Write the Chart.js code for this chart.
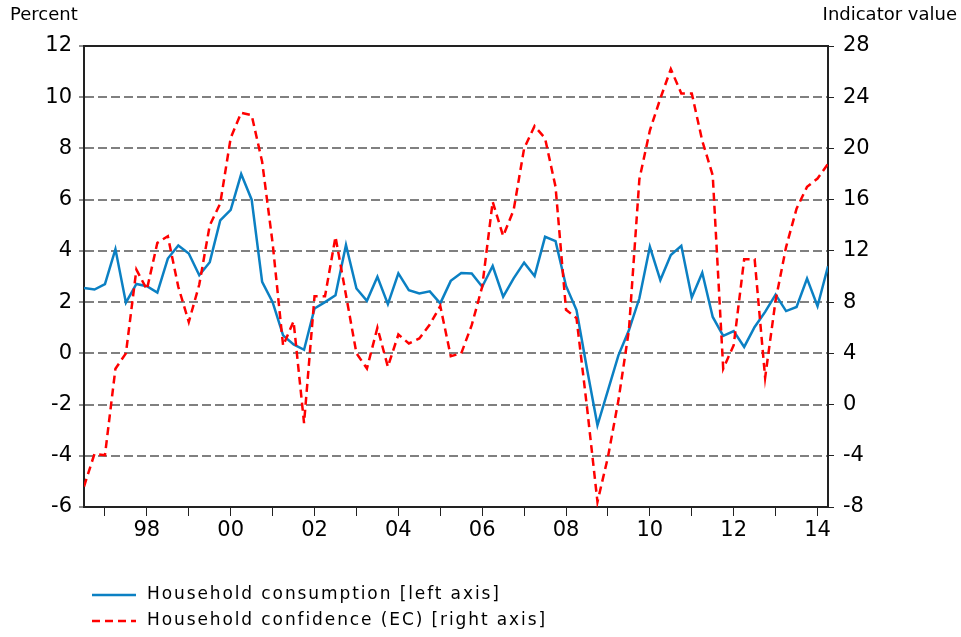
<!DOCTYPE html>
<html>
<head>
    <title>Household consumption and confidence</title>
    <script src="https://cdn.jsdelivr.net/npm/chart.js"></script>
    <style>
        body { margin: 0; background: #fff; }
        #wrap { width: 961px; height: 637px; position: relative; }
    </style>
</head>
<body>
    <div id="wrap"><canvas id="chart"></canvas></div>

    <script>
        // quarterly observations, 1996Q3 .. 2014Q2
        const quarters = [];
        for (let y = 1996; y <= 2014; y++) {
            for (let q = 1; q <= 4; q++) {
                if ((y === 1996 && q < 3) || (y === 2014 && q > 2)) continue;
                quarters.push(y + 'Q' + q);
            }
        }

        const tickYears = [1997, 1998, 1999, 2000, 2001, 2002, 2003, 2004, 2005,
                           2006, 2007, 2008, 2009, 2010, 2011, 2012, 2013, 2014];

        // Household consumption, percent (left axis)
        const consumption = [
            2.55, 2.49,
            2.70, 4.07, 1.98, 2.71,
            2.62, 2.37, 3.70, 4.21,
            3.90, 3.05, 3.56, 5.19,
            5.60, 7.00, 6.00, 2.79,
            2.00, 0.70, 0.35, 0.14,
            1.75, 2.00, 2.27, 4.23,
            2.53, 2.05, 2.99, 1.92,
            3.12, 2.47, 2.34, 2.42,
            1.95, 2.83, 3.14, 3.12,
            2.60, 3.41, 2.21, 2.93,
            3.54, 3.02, 4.55, 4.38,
            2.63, 1.69, -0.60, -2.81,
            -1.45, -0.08, 0.90, 2.15,
            4.16, 2.86, 3.84, 4.20,
            2.18, 3.15, 1.42, 0.68,
            0.87, 0.25, 1.03, 1.62,
            2.29, 1.65, 1.81, 2.92,
            1.84, 3.40
        ];

        // Household confidence (EC), indicator value (right axis)
        const confidence = [
            -6.4, -3.85,
            -3.95, 2.8, 4.0, 10.54,
            8.98, 12.63, 13.15, 9.19,
            6.45, 9.37, 14.0, 15.7,
            20.83, 22.79, 22.6, 18.96,
            12.6, 4.6, 6.5, -1.45,
            8.46, 8.46, 13.1, 8.55,
            4.0, 2.82, 6.0, 2.95,
            5.47, 4.77, 5.16, 6.25,
            7.69, 3.78, 4.0, 6.2,
            9.2, 15.84, 13.16, 15.19,
            20.0, 21.75, 20.79, 17.0,
            7.4, 6.75, -0.2, -7.6,
            -4.1, 0.33, 5.8, 17.6,
            21.4, 23.9, 26.2, 24.3,
            24.3, 20.6, 17.9, 2.8,
            4.63, 11.35, 11.35, 2.1,
            8.14, 12.3, 15.3, 17.0,
            17.65, 18.8
        ];

        const seriesNames = ['Household consumption [left axis]', 'Household confidence (EC) [right axis]'];

        const qx = quarters.map(function(s) {
            return +s.slice(0, 4) + (+s.slice(5) - 1) / 4;
        });

        const tickFont = { family: "'DejaVu Sans', Verdana, sans-serif", size: 21 };
        const axisColor = '#222';

        const decor = {
            id: 'decor',
            afterDraw(chart) {
                const ctx = chart.ctx;
                const a = chart.chartArea;
                ctx.save();
                // top frame line
                ctx.strokeStyle = axisColor;
                ctx.lineWidth = 2;
                ctx.beginPath();
                ctx.moveTo(a.left - 1, a.top);
                ctx.lineTo(a.right + 1, a.top);
                ctx.stroke();

                // axis titles
                ctx.fillStyle = '#000';
                ctx.font = "18px 'DejaVu Sans', Verdana, sans-serif";
                ctx.textBaseline = 'middle';
                ctx.textAlign = 'left';
                ctx.fillText('Percent', 10, 15);
                ctx.textAlign = 'right';
                ctx.fillText('Indicator value', 957, 15);

                // legend
                ctx.textAlign = 'left';
                ctx.font = "17px 'DejaVu Sans', Verdana, sans-serif";
                ctx.letterSpacing = '1.9px';
                chart.data.datasets.forEach(function(ds, k) {
                    const y = 595 + k * 26;
                    ctx.strokeStyle = ds.borderColor;
                    ctx.lineWidth = 2.5;
                    ctx.setLineDash(ds.borderDash || []);
                    ctx.beginPath();
                    ctx.moveTo(92, y);
                    ctx.lineTo(136, y);
                    ctx.stroke();
                    ctx.setLineDash([]);
                    ctx.fillText(ds.label, 147, y);
                });
                ctx.restore();
            }
        };

        new Chart(document.getElementById('chart'), {
            type: 'line',
            data: {
                datasets: [{
                    label: seriesNames[0],
                    data: consumption.map(function(v, i) { return { x: qx[i], y: v }; }),
                    yAxisID: 'y',
                    borderColor: '#0b80c3',
                    borderWidth: 2.5,
                    pointRadius: 0,
                    tension: 0,
                    order: 1
                }, {
                    label: seriesNames[1],
                    data: confidence.map(function(v, i) { return { x: qx[i], y: v }; }),
                    yAxisID: 'y2',
                    borderColor: '#ff0000',
                    borderWidth: 2.5,
                    borderDash: [8, 5],
                    pointRadius: 0,
                    tension: 0,
                    order: 0
                }]
            },
            plugins: [decor],
            options: {
                responsive: true,
                maintainAspectRatio: false,
                animation: false,
                layout: { padding: { top: 46, bottom: 90, left: 0, right: 0 } },
                plugins: { legend: { display: false }, tooltip: { enabled: false } },
                scales: {
                    x: {
                        type: 'linear',
                        min: 1996.5,
                        max: 2014.25,
                        afterBuildTicks: function(s) {
                            s.ticks = tickYears.map(function(y) { return { value: y }; });
                        },
                        afterFit: function(s) { s.height = 40; },
                        grid: { drawOnChartArea: false, drawTicks: true, tickLength: 9, color: axisColor, lineWidth: 1 },
                        border: { color: axisColor, width: 2 },
                        ticks: {
                            autoSkip: false,
                            maxRotation: 0,
                            padding: 2,
                            color: '#000',
                            font: tickFont,
                            callback: function(v) { return v % 2 === 0 ? String(v).slice(2) : ''; }
                        }
                    },
                    y: {
                        position: 'left',
                        min: -6,
                        max: 12,
                        afterFit: function(s) { s.width = 84; },
                        grid: { color: '#808080', lineWidth: 2, tickLength: 5, tickColor: axisColor, tickWidth: 1 },
                        border: { color: axisColor, width: 2, dash: [9, 4] },
                        ticks: { stepSize: 2, padding: 7, color: '#000', font: tickFont }
                    },
                    y2: {
                        position: 'right',
                        min: -8,
                        max: 28,
                        afterFit: function(s) { s.width = 133; },
                        grid: { drawOnChartArea: false, tickLength: 6, color: axisColor, lineWidth: 1 },
                        border: { color: axisColor, width: 2 },
                        ticks: { stepSize: 4, padding: 9, color: '#000', font: tickFont }
                    }
                }
            }
        });
    </script>
</body>
</html>
